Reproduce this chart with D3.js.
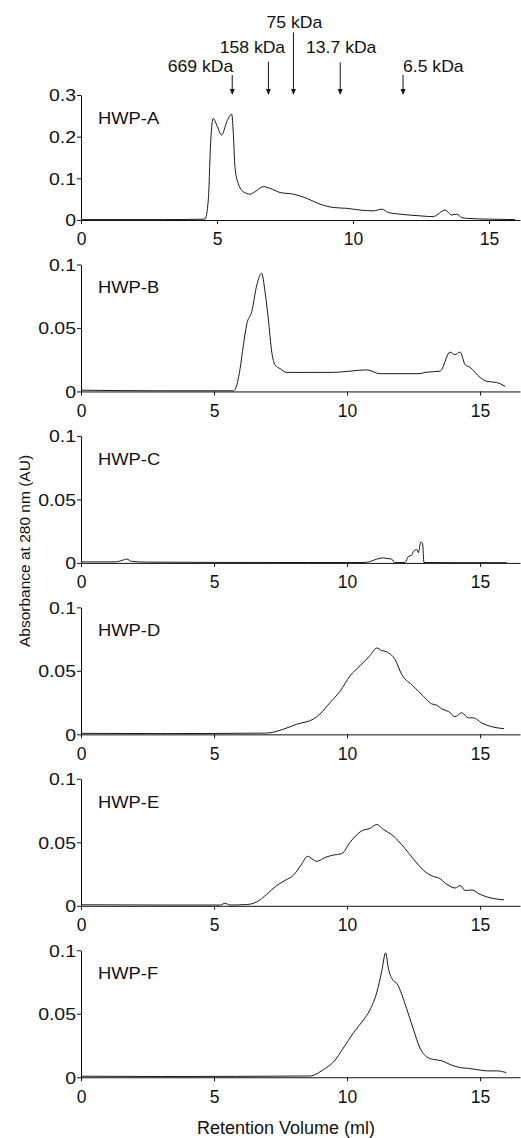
<!DOCTYPE html>
<html>
<head>
<meta charset="utf-8">
<script src="https://cdn.jsdelivr.net/npm/d3@7"></script>
<style>
  html, body { margin: 0; padding: 0; background: #fff; }
  svg { display: block; }
  text { font-family: "Liberation Sans", Arial, Helvetica, sans-serif; fill: #111; }
</style>
</head>
<body>
<svg id="chart" width="521" height="1138"></svg>
<script>
// ---------------- data ----------------
const panelNames = ["HWP-A", "HWP-B", "HWP-C", "HWP-D", "HWP-E", "HWP-F"];
const xTicks = [0, 5, 10, 15];
const yTicksA = [0, 0.1, 0.2, 0.3];
const yTicksSmall = [0, 0.05, 0.1];
const markerLabels = ["669 kDa", "158 kDa", "75 kDa", "13.7 kDa", "6.5 kDa"];
const markerVolumes = [5.56, 6.89, 7.81, 9.53, 11.84];

const hwpA = [[0,0.001],[3,0.001],[4.56,0.002],[4.68,0.048],[4.77,0.19],[4.86,0.244],[4.99,0.228],
  [5.17,0.204],[5.36,0.236],[5.54,0.254],[5.60,0.208],[5.66,0.128],[5.78,0.088],[5.97,0.068],
  [6.21,0.062],[6.40,0.068],[6.70,0.080],[6.95,0.076],[7.32,0.066],[7.81,0.062],[8.30,0.052],
  [8.79,0.038],[9.28,0.030],[9.77,0.028],[10.26,0.024],[10.75,0.022],[11.06,0.026],[11.30,0.018],
  [11.73,0.014],[12.46,0.010],[12.95,0.008],[13.08,0.012],[13.38,0.024],[13.63,0.012],[13.81,0.014],
  [14.0,0.006],[14.18,0.004],[15.0,0.002],[15.96,0.001]];
const hwpB = [[0,0.001],[3,0.0005],[5.73,0.0005],[5.88,0.007],[5.98,0.018],[6.10,0.036],[6.23,0.053],
  [6.42,0.063],[6.61,0.084],[6.79,0.093],[6.92,0.078],[7.04,0.057],[7.17,0.031],[7.29,0.021],
  [7.48,0.018],[7.73,0.015],[8.23,0.015],[8.86,0.015],[9.49,0.015],[10.11,0.016],[10.74,0.017],
  [11.24,0.014],[11.99,0.014],[12.74,0.014],[12.93,0.015],[13.5,0.016],[13.87,0.031],[14.06,0.029],
  [14.25,0.031],[14.44,0.021],[14.62,0.019],[15.0,0.011],[15.25,0.008],[15.63,0.007],[15.94,0.004]];
const hwpC = [[0,0.0008],[1.3,0.0008],[1.55,0.002],[1.72,0.003],[1.9,0.0012],[2.5,0.0006],[5,0.0004],
  [8.5,0.0003],[10.6,0.0003],[10.85,0.001],[11.12,0.003],[11.36,0.004],[11.49,0.0035],[11.68,0.003],
  [11.78,0.0003],[12.18,0.0003],[12.30,0.005],[12.43,0.006],[12.49,0.009],[12.62,0.0105],[12.68,0.008],
  [12.77,0.0165],[12.84,0.015],[12.89,0.0003],[14,0.0002],[16,0.0002]];
const hwpD = [[0,0.0008],[3,0.0006],[6.98,0.001],[7.6,0.004],[8.11,0.008],[8.73,0.012],[8.98,0.016],
  [9.36,0.025],[9.74,0.034],[10.11,0.046],[10.49,0.054],[10.86,0.062],[11.12,0.068],[11.3,0.066],
  [11.49,0.065],[11.8,0.059],[12.06,0.047],[12.49,0.038],[12.87,0.030],[13.18,0.024],[13.37,0.023],
  [13.56,0.020],[13.81,0.018],[14.06,0.014],[14.31,0.017],[14.56,0.013],[14.75,0.013],[15.06,0.009],
  [15.44,0.006],[15.9,0.0045]];
const hwpE = [[0,0.0008],[3,0.0006],[5.25,0.0006],[5.41,0.002],[5.6,0.0006],[6.23,0.001],[6.6,0.003],
  [6.98,0.009],[7.36,0.016],[7.67,0.020],[7.98,0.024],[8.3,0.033],[8.51,0.039],[8.86,0.035],
  [9.17,0.038],[9.49,0.040],[9.8,0.041],[10.11,0.050],[10.55,0.059],[10.86,0.061],[11.12,0.064],
  [11.37,0.060],[11.68,0.056],[12.18,0.045],[12.49,0.037],[12.87,0.028],[13.25,0.023],[13.44,0.022],
  [13.75,0.017],[14.06,0.014],[14.25,0.016],[14.44,0.012],[14.69,0.0125],[15.0,0.009],[15.44,0.006],
  [15.9,0.0047]];
const hwpF = [[0,0.0008],[3,0.0006],[8.61,0.001],[9.11,0.006],[9.49,0.012],[9.86,0.023],[10.24,0.035],
  [10.61,0.045],[10.86,0.053],[11.12,0.067],[11.3,0.083],[11.45,0.098],[11.55,0.086],[11.74,0.076],
  [11.87,0.074],[12.06,0.065],[12.24,0.054],[12.49,0.038],[12.74,0.023],[13.0,0.016],[13.25,0.014],
  [13.56,0.013],[13.87,0.010],[14.25,0.0076],[14.56,0.007],[14.88,0.006],[15.25,0.005],[15.63,0.005],
  [15.98,0.0037]];
const series = [hwpA, hwpB, hwpC, hwpD, hwpE, hwpF];

// ---------------- layout ----------------
const svg = d3.select("#chart");
const left = 81, right = 520;
const bottoms = d3.range(6).map(i => 220 + 171.45 * i);
const heights = [125, 127, 127, 127, 127, 127];
const xMaxA = 16.14, xMax = 16.5;
const yTickScale = 1.18;

series.forEach((data, i) => {
  const yBottom = bottoms[i], yTop = yBottom - heights[i];
  const x = d3.scaleLinear().domain([0, i === 0 ? xMaxA : xMax]).range([left, right]);
  const y = d3.scaleLinear().domain([0, i === 0 ? 0.3 : 0.1]).range([yBottom, yTop]);
  const g = svg.append("g");

  // x axis
  const gx = g.append("g").attr("transform", `translate(0,${yBottom})`)
    .call(d3.axisBottom(x).tickValues(xTicks).tickSize(4).tickSizeOuter(0).tickPadding(0).tickFormat(d3.format("d")));
  gx.selectAll("path,line").attr("stroke", "#111").attr("stroke-width", 1);
  gx.selectAll("text").attr("font-size", 17.5).attr("y", 0).attr("dy", "1.45em").attr("x", 0)
    .attr("font-family", "Liberation Sans, Arial, sans-serif").attr("fill", "#111");

  // y axis
  const fmt = v => v === 0 ? "0" : String(v);
  const gy = g.append("g").attr("transform", `translate(${left},0)`)
    .call(d3.axisLeft(y).tickValues(i === 0 ? yTicksA : yTicksSmall).tickSize(4).tickSizeOuter(0).tickPadding(2).tickFormat(fmt));
  gy.selectAll("path,line").attr("stroke", "#111").attr("stroke-width", 1);
  gy.selectAll("text").attr("font-size", 16.5).attr("font-family", "Liberation Sans, Arial, sans-serif")
    .attr("fill", "#111").attr("dy", "0.36em").attr("x", -5 / yTickScale).attr("transform", `scale(${yTickScale},1)`);

  // trace
  const line = d3.line().x(d => x(d[0])).y(d => y(d[1])).curve(d3.curveMonotoneX);
  g.append("path").datum(data).attr("d", line)
    .attr("fill", "none").attr("stroke", "#1a1a1a").attr("stroke-width", 1).attr("stroke-linejoin", "round");

  // panel label
  g.append("text").attr("x", 98 / 1.08).attr("y", yTop + 29).attr("font-size", 17)
    .attr("transform", "scale(1.08,1)").text(panelNames[i]);

  // molecular weight markers on first panel
  if (i === 0) {
    const anchors = ["end", "middle", "middle", "middle", "start"];
    const dxs = [1, -16, 1, 1, 0];
    const labelY = [71.7, 53.3, 28.3, 53.3, 71.7];
    const arrowTop = [75, 61.7, 32.3, 62.3, 75];
    const tipY = yTop;
    markerVolumes.forEach((v, j) => {
      const px = x(v);
      g.append("line").attr("x1", px).attr("x2", px).attr("y1", arrowTop[j]).attr("y2", tipY - 5)
        .attr("stroke", "#111").attr("stroke-width", 1);
      g.append("path").attr("d", `M${px - 2.5},${tipY - 6}L${px + 2.5},${tipY - 6}L${px},${tipY}Z`)
        .attr("fill", "#111");
      const k = 1.1;
      g.append("text").attr("x", (px + dxs[j]) / k).attr("y", labelY[j]).attr("font-size", 16)
        .attr("text-anchor", anchors[j]).attr("transform", `scale(${k},1)`).text(markerLabels[j]);
    });
  }
});

// axis titles
svg.append("text").attr("transform", "translate(30,551) rotate(-90)")
  .attr("text-anchor", "middle").attr("font-size", 15.5).text("Absorbance at 280 nm (AU)");
svg.append("text").attr("x", 286).attr("y", 1134).attr("text-anchor", "middle")
  .attr("font-size", 18).text("Retention Volume (ml)");
</script>
</body>
</html>
